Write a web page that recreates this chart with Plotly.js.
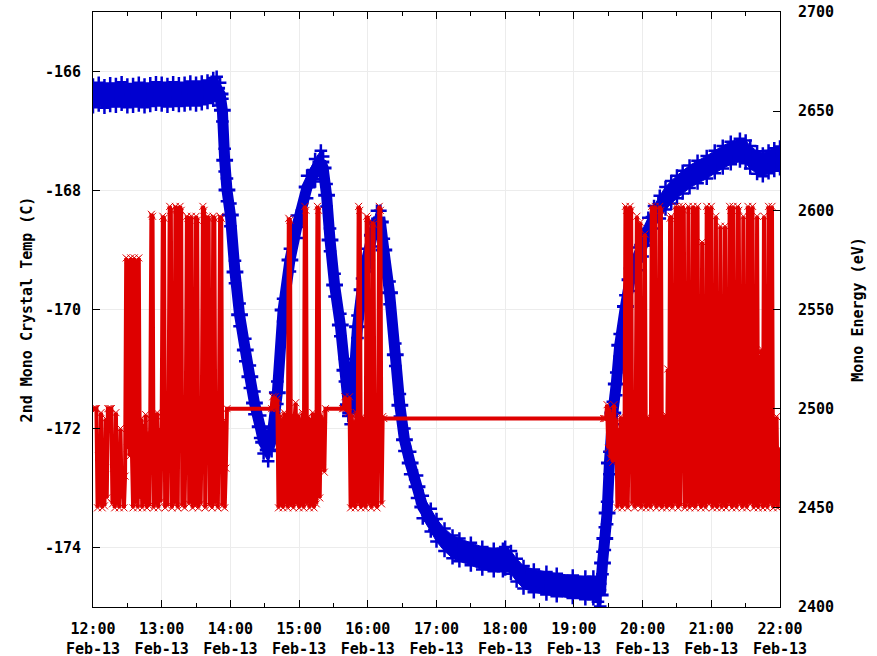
<!DOCTYPE html>
<html>
<head>
<meta charset="utf-8">
<script src="https://cdn.plot.ly/plotly-3.0.1.min.js"></script>
<style>
html,body{margin:0;padding:0;background:#fff;}
#chart{width:877px;height:656px;}
</style>
</head>
<body>
<div id="chart"></div>
<script>
// ---------------- DATA ----------------
const DAY = '2013-02-13';

// 2nd Mono Crystal Temp (C) — left axis (centre of the noisy trace)
const blueTime = [
 '12:00','12:05','12:10','12:15','12:20','12:25','12:30','12:35','12:40','12:45',
 '12:50','12:55','13:00','13:05','13:10','13:15','13:20','13:25','13:30','13:35',
 '13:40','13:45','13:48','13:51','13:53','13:55','13:57','14:00','14:04','14:08',
 '14:13','14:17','14:21','14:26','14:29','14:33','14:36','14:41','14:46','14:52',
 '14:58','15:07','15:14','15:19','15:21','15:24','15:27','15:31','15:36','15:40',
 '15:43','15:45','15:47','15:51','15:55','15:59','16:04','16:08','16:11','16:14',
 '16:19','16:24','16:28','16:32','16:37','16:43','16:48','16:55','17:00','17:07',
 '17:14','17:20','17:30','17:40','17:50','17:58','18:00','18:05','18:10','18:16',
 '18:25','18:36','18:45','18:59','19:10','19:17','19:21','19:23','19:25','19:27',
 '19:29','19:31','19:34','19:37','19:40','19:45','19:49','19:55','20:00','20:05',
 '20:10','20:15','20:20','20:25','20:30','20:35','20:41','20:48','20:56','21:03',
 '21:10','21:17','21:25','21:30','21:34','21:40','21:45','21:50','21:55','22:00'
];
const blueTemp = [
 -166.41,-166.38,-166.42,-166.39,-166.40,-166.37,-166.41,-166.40,-166.38,-166.41,
 -166.39,-166.37,-166.38,-166.40,-166.37,-166.39,-166.38,-166.36,-166.38,-166.36,
 -166.34,-166.30,-166.28,-166.38,-166.65,-167.49,-167.99,-168.41,-169.37,-170.09,
 -170.68,-171.13,-171.57,-171.97,-172.23,-172.36,-172.19,-171.40,-170.01,-169.17,
 -168.61,-167.94,-167.66,-167.52,-167.62,-168.08,-168.83,-169.59,-170.26,-171.02,
 -171.60,-171.74,-171.44,-170.29,-169.67,-169.17,-168.75,-168.53,-168.53,-169.00,
 -169.72,-170.76,-171.61,-172.19,-172.58,-172.98,-173.32,-173.54,-173.71,-173.87,
 -173.99,-174.04,-174.11,-174.18,-174.21,-174.21,-174.18,-174.25,-174.38,-174.50,
 -174.56,-174.60,-174.63,-174.66,-174.68,-174.68,-174.72,-174.80,-174.26,-173.85,
 -173.42,-172.58,-171.74,-171.25,-170.60,-169.95,-169.50,-169.15,-168.92,-168.65,
 -168.45,-168.28,-168.13,-168.03,-167.94,-167.86,-167.77,-167.69,-167.61,-167.52,
 -167.44,-167.37,-167.32,-167.35,-167.44,-167.53,-167.57,-167.52,-167.48,-167.45
];
// half-height of the sensor noise band seen around the temperature trace (C)
const blueNoise = 0.19;

// Mono Energy (eV) — right axis, logged once per minute in each burst
const redStart1 = '12:00';
const red1 = [
 2500,2500,2500,2500,
 2450,2476,2452,2498,2450,2474,2451,2495,2455,2500,
 2500,2500,2500,
 2452,2470,2450,2498,2452,2468,2450,2490,2455,2470,2450,2466,
 2576,2480,2575,2476,2576,2478,
 2450,2576,2452,2575,2450,2576,2455,2495,2450,2492,
 2452,2497,2450,2488,2451,2495,2598,2597,2450,2493,
 2452,2498,2450,2490,2453,2496,2597,2596,2450,2494,
 2451,2497,2602,2600,2450,2495,2452,2602,2601,2450,
 2541,2602,2600,2451,2496,2450,2493,2597,2596,2452,
 2528,2597,2450,2494,2451,2597,2595,2450,2497,2452,
 2492,2602,2600,2450,2513,2597,2596,2451,2495,2450,
 2597,2596,2452,2493,2450,2496,2597,2596,2451,2494,
 2450,2470,2500
];
const redStart2 = '14:36';
const red2 = [
 2500,2506,2500,2506,2500,2505,2450,2497,2451,2495,
 2450,2498,2452,2496,2450,2596,2595,2451,2497,2450,
 2494,2503,2452,2497,2450,2495,2451,2498,2450,2602,
 2600,2452,2496,2450,2495,2451,2498,2450,2496,2452,
 2602,2600,2455,2497,2470,2495,2468,2500
];
const redStart3 = '15:38';
const red3 = [
 2500,2500,2506,2500,2505,2498,2506,2450,2497,2451,
 2494,2450,2498,2452,2602,2600,2450,2496,2451,2495,
 2450,2597,2596,2452,2498,2450,2594,2593,2451,2495,
 2450,2497,2602,2600,2452,2496,2495
];
const redStart4 = '19:26';
const red4 = [
 2495,2495,2495,2502,2480,2500,2475,2498,2473,2502,
 2485,2495,2450,2490,2452,2496,2450,2494,2451,2602,
 2600,2450,2495,2602,2600,2452,2493,2450,2497,2597,
 2451,2496,2594,2450,2492,2452,2588,2450,2496,2451,
 2494,2450,2602,2600,2452,2602,2450,2495,2451,2602,
 2600,2450,2494,2452,2497,2450,2520,2451,2596,2597,
 2450,2495,2452,2602,2600,2450,2602,2451,2496,2602,
 2600,2450,2494,2452,2602,2450,2497,2451,2602,2600,
 2450,2495,2602,2452,2496,2450,2584,2451,2494,2450,
 2602,2600,2452,2497,2602,2450,2495,2451,2597,2450,
 2496,2452,2592,2450,2494,2451,2592,2450,2497,2452,
 2602,2600,2450,2602,2451,2495,2450,2602,2600,2452,
 2496,2450,2597,2451,2494,2450,2602,2600,2452,2497,
 2602,2450,2495,2451,2597,2450,2496,2452,2530,2450,
 2597,2451,2494,2450,2602,2600,2452,2602,2450,2495,
 2451,2496,2450,2465,2480
];

const yTickVals = [-174,-172,-170,-168,-166];
const yTickText = ['-174','-172','-170','-168','-166'];
const y2TickVals = [2400,2450,2500,2550,2600,2650,2700];
const y2TickText = ['2400','2450','2500','2550','2600','2650','2700'];

// ---------------- BUILD ----------------
const BLUE = 'rgb(0,0,208)';
const RED = 'rgb(222,0,0)';
const pad = n => String(n).padStart(2,'0');
const hmToMin = hm => { const p = hm.split(':').map(Number); return p[0]*60 + p[1]; };
const minToStamp = m => DAY + ' ' + pad(Math.floor(m/60)) + ':' + pad(m % 60) + ':00';

const redX = [], redY = [];
[[redStart1, red1],[redStart2, red2],[redStart3, red3],[redStart4, red4]].forEach(([s, vals]) => {
  const m0 = hmToMin(s);
  vals.forEach((v, i) => { redX.push(minToStamp(m0 + i)); redY.push(v); });
});
const blueX = blueTime.map(hm => minToStamp(hmToMin(hm)));
const blueHi = blueTemp.map(v => v + blueNoise);
const blueLo = blueTemp.map(v => v - blueNoise);

const tickFont = {family:'DejaVu Sans Mono', size:15, color:'#000', weight:'bold'};
const titleFont = {family:'DejaVu Sans Mono', size:15, color:'#000', weight:'bold'};
const plusMarker = {symbol:'cross-thin-open', size:9, color:BLUE, line:{color:BLUE, width:2.5}};

const traces = [
  { x: blueX, y: blueHi, yaxis:'y', type:'scatter', mode:'lines+markers',
    line:{color:BLUE, width:1, simplify:false}, marker:plusMarker, hoverinfo:'skip' },
  { x: blueX, y: blueLo, yaxis:'y', type:'scatter', mode:'lines+markers',
    line:{color:BLUE, width:1, simplify:false}, marker:plusMarker,
    fill:'tonexty', fillcolor:BLUE, hoverinfo:'skip' },
  { x: blueX, y: blueTemp, yaxis:'y', type:'scatter', mode:'lines+markers',
    line:{color:BLUE, width:11, simplify:false},
    marker:{symbol:'cross-thin-open', size:12, color:BLUE, line:{color:BLUE, width:3}},
    hoverinfo:'skip' },
  {
    x: redX, y: redY, yaxis:'y2', type:'scatter', mode:'lines',
    line:{color:RED, width:4, simplify:false, shape:'linear'},
    hoverinfo:'skip'
  },
  {
    x: redX, y: redY, yaxis:'y2', type:'scatter', mode:'markers',
    marker:{symbol:'x-thin-open', size:7, color:RED, line:{color:RED, width:1}},
    hoverinfo:'skip'
  }
];

const layout = {
  width:877, height:656,
  margin:{l:93, r:97, t:12, b:49},
  paper_bgcolor:'#fff', plot_bgcolor:'#fff',
  showlegend:false,
  font:{family:'DejaVu Sans Mono', size:15, color:'#000'},
  xaxis:{
    type:'date',
    range:[DAY+' 12:00', DAY+' 22:00'],
    tick0: DAY+' 12:00', dtick:3600000,
    tickformat:'%H:%M<br>%b-%d',
    ticks:'inside', ticklen:7, tickwidth:1, tickcolor:'#000',
    showline:true, linecolor:'#000', linewidth:1, mirror:'ticks',
    showgrid:true, gridcolor:'#ececec', gridwidth:1, zeroline:false,
    tickfont: tickFont, ticklabelstandoff: 8,
    minor:{dtick:1800000, ticks:'inside', ticklen:4, tickcolor:'#000', showgrid:false}
  },
  yaxis:{
    range:[-175,-165],
    tickmode:'array', tickvals:yTickVals, ticktext:yTickText,
    ticks:'inside', ticklen:7, tickwidth:1, tickcolor:'#000',
    showline:true, linecolor:'#000', linewidth:1, mirror:false,
    showgrid:true, gridcolor:'#ececec', gridwidth:1, zeroline:false,
    tickfont: tickFont, ticklabelstandoff: 8,
    title:{text:'2nd Mono Crystal Temp (C)', font:titleFont, standoff:8}
  },
  yaxis2:{
    overlaying:'y', side:'right',
    range:[2400,2700],
    tickmode:'array', tickvals:y2TickVals, ticktext:y2TickText,
    ticks:'inside', ticklen:7, tickwidth:1, tickcolor:'#000',
    showline:true, linecolor:'#000', linewidth:1,
    showgrid:false, zeroline:false,
    tickfont: tickFont, ticklabelstandoff: 14,
    title:{text:'Mono Energy (eV)', font:titleFont, standoff:19}
  }
};

Plotly.newPlot('chart', traces, layout, {displayModeBar:false, staticPlot:true});
</script>
</body>
</html>
